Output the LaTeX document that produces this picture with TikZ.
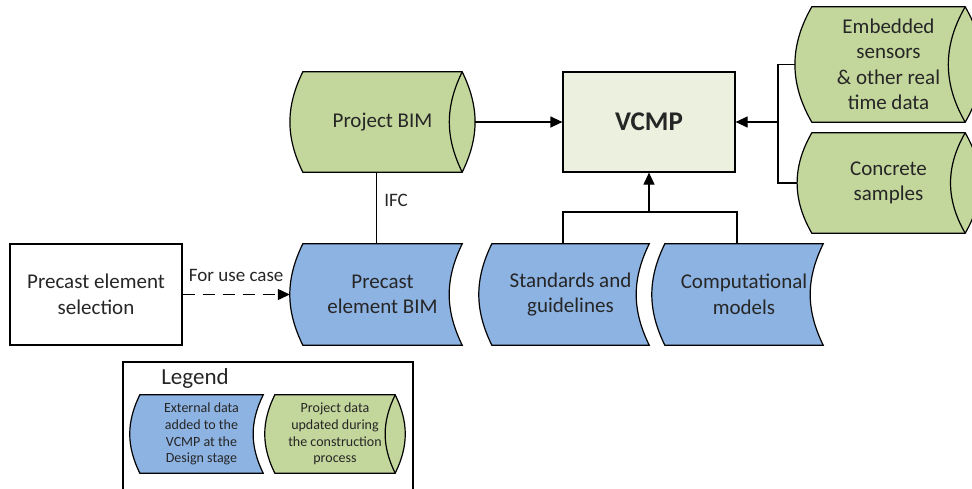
\documentclass[tikz,border=0pt]{standalone}
\usepackage{fontspec}
\setmainfont{Carlito}
\usetikzlibrary{arrows.meta,backgrounds}
\definecolor{data_green}{RGB}{195, 214, 155}
\definecolor{data_blue}{RGB}{141, 179, 226}
\definecolor{vcmp_green}{RGB}{235, 241, 222}
\definecolor{text_grey}{RGB}{38, 38, 38}
\tikzstyle{dn}=[rectangle,inner sep=0pt,align=center,text=text_grey,
  font=\fontsize{21}{25.5}\selectfont]
\tikzstyle{ln}=[rectangle,inner sep=0pt,align=center,text=text_grey,
  font=\fontsize{14}{16.7}\selectfont]
\tikzstyle{box}=[rectangle,draw=black,line width=1.2pt,inner sep=0pt,
  align=center,text=text_grey,font=\fontsize{21}{25.5}\selectfont]
\tikzstyle{lbl}=[inner sep=1pt,text=text_grey,font=\fontsize{19}{23}\selectfont]
\tikzstyle{outline}=[draw=black,line width=1.2pt]
\tikzstyle{wire}=[line width=1.2pt]
\tikzstyle{arr}=[line width=1.2pt,-{Triangle[length=12pt,width=11pt]}]
\tikzstyle{dsh}=[line width=1.2pt,dash pattern=on 12pt off 8pt,
  -{Triangle[length=12pt,width=11pt]}]
\newcommand{\greendata}[2][26]{%
  \filldraw[outline,fill=data_green] (#2.north west) to[bend right=#1] (#2.south west)
    -- (#2.south east) to[bend right=#1] (#2.north east) -- cycle;
  \draw[outline] (#2.north east) to[bend right=#1] (#2.south east);}
\newcommand{\bluedata}[2][26]{%
  \filldraw[outline,fill=data_blue] (#2.north west) to[bend right=#1] (#2.south west)
    -- (#2.south east) to[bend left=#1] (#2.north east) -- cycle;}
\begin{document}
\begin{tikzpicture}[x=1pt,y=1pt]
            \useasboundingbox (0, 0) rectangle (972, -488);
            \node [style=box, minimum width=172, minimum height=101] (0) at (96, -294.5) {Precast element\\selection};
            \node [style=dn, minimum width=159, minimum height=100] (1) at (382.5, -122) {Project BIM};
            \node [style=dn, minimum width=159, minimum height=101] (2) at (382.5, -294.5) {Precast\\element BIM};
            \node [style=dn, minimum width=157, minimum height=101] (3) at (570.5, -294.5) {Standards and\\guidelines};
            \node [style=dn, minimum width=158, minimum height=101] (4) at (744, -294.5) {Computational\\models};
            \node [style=dn, minimum width=153, minimum height=115] (5) at (888.5, -64.5) {Embedded\\sensors\\\& other real\\time data};
            \node [style=dn, minimum width=153, minimum height=100] (6) at (888.5, -183) {Concrete\\samples};
            \node [style=box, fill=vcmp_green, minimum width=172, minimum height=100,
              font=\fontsize{27}{32}\selectfont\bfseries] (v) at (649, -122) {VCMP};
            \coordinate (7) at (778, -122);
            \coordinate (8) at (649, -212);
            \node [style=lbl] (i) at (396, -200) {IFC};
            % legend
            \draw [line width=1.2pt] (123, -362) rectangle (413, -500);
            \node [style=lbl, font=\fontsize{23}{27}\selectfont] (9) at (195, -378) {Legend};
            \node [style=ln, minimum width=123, minimum height=78] (10) at (201.5, -434) {External data\\added to the\\VCMP at the\\Design stage};
            \node [style=ln, minimum width=120, minimum height=78] (11) at (335, -434) {Project data\\updated during\\the construction\\process};
            \begin{scope}[on background layer]
              \greendata{1}
              \greendata[30]{5}
              \greendata[30]{6}
              \greendata{11}
              \bluedata{2}
              \bluedata{3}
              \bluedata{4}
              \bluedata{10}
            \end{scope}
            \draw [style=arr] ([xshift=13]1.east) to (v.west);
            \draw [style=wire] ([xshift=-6]1.south) to ([xshift=-6]2.north);
            \draw [style=dsh] (0.east) to node [style=lbl, above=11pt] {For use case} ([xshift=-13]2.west);
            \draw [style=wire] ([xshift=-17]5.west) -| (7);
            \draw [style=wire] ([xshift=-15]6.west) -| (7);
            \draw [style=arr] (7) to (v.east);
            \draw [style=wire] ([xshift=-7.5]3.north) |- (8);
            \draw [style=wire] ([xshift=-7]4.north) |- (8);
            \draw [style=arr] (8) to (v.south);
    \end{tikzpicture}
\end{document}
